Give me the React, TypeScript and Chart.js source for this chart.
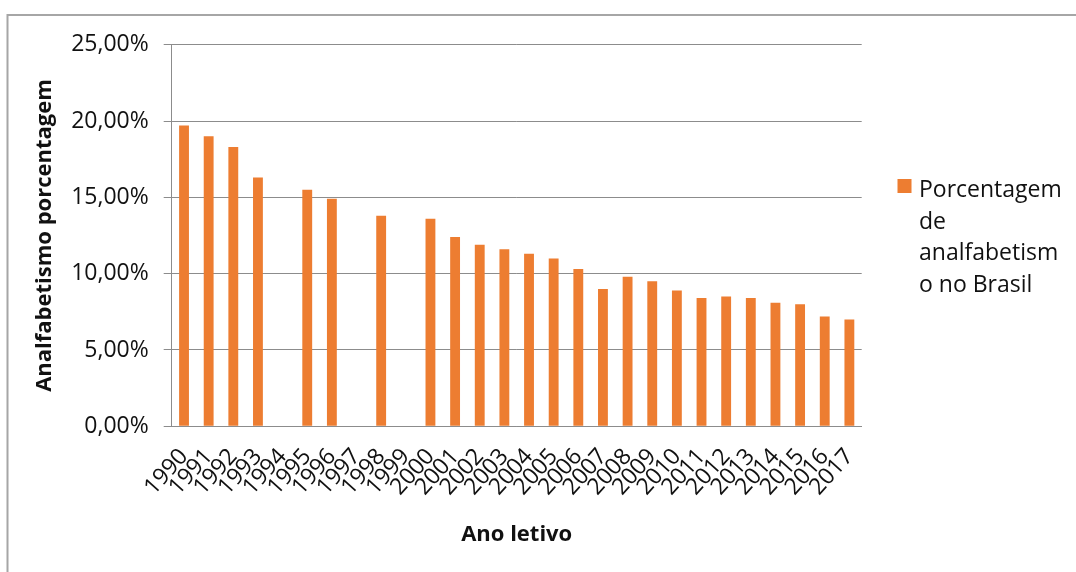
import { useEffect, useRef } from "react";
import { Chart, registerables } from "chart.js";

Chart.register(...registerables);

// Illiteracy rate in Brazil by school year (percent); null = no survey that year
const years = [
  "1990", "1991", "1992", "1993", "1994", "1995", "1996", "1997", "1998", "1999",
  "2000", "2001", "2002", "2003", "2004", "2005", "2006", "2007", "2008", "2009",
  "2010", "2011", "2012", "2013", "2014", "2015", "2016", "2017",
];
const illiteracyRate: (number | null)[] = [
  19.7, 19.0, 18.3, 16.3, null, 15.5, 14.9, null, 13.8, null,
  13.6, 12.4, 11.9, 11.6, 11.3, 11.0, 10.3, 9.0, 9.8, 9.5,
  8.9, 8.4, 8.5, 8.4, 8.1, 8.0, 7.2, 7.0,
];
const yMin = 0;
const yMax = 25;
const yStep = 5;

const seriesLabel = "Porcentagem de analfabetismo no Brasil";
const legendLines = ["Porcentagem", "de", "analfabetism", "o no Brasil"];
const yTitle = "Analfabetismo porcentagem";
const xTitle = "Ano letivo";

const FONT = "'Open Sans', Lato, sans-serif";
const BAR_COLOR = "#ED7D31";
const GRID_COLOR = "#8c8c8c";
const TEXT_COLOR = "#111111";

const formatPercent = (v: number) => v.toFixed(2).replace(".", ",") + "%";

// Thin gray frame along the top and left edges of the chart
const framePlugin = {
  id: "frame",
  beforeDraw(chart: Chart) {
    const { ctx, width, height } = chart;
    ctx.save();
    ctx.strokeStyle = "#a6a6a6";
    ctx.lineWidth = 2;
    ctx.beginPath();
    ctx.moveTo(7.5, height);
    ctx.lineTo(7.5, 15);
    ctx.lineTo(width, 15);
    ctx.stroke();
    ctx.restore();
  },
};

// Legend on the right, with the series name wrapped over several lines
const wrappedLegendPlugin = {
  id: "wrappedLegend",
  afterDraw(chart: Chart) {
    const { ctx } = chart;
    const ds = chart.data.datasets[0];
    ctx.save();
    ctx.fillStyle = ds.backgroundColor as string;
    ctx.fillRect(897.5, 179, 14, 14);
    ctx.fillStyle = TEXT_COLOR;
    ctx.font = `23px ${FONT}`;
    ctx.textAlign = "left";
    ctx.textBaseline = "alphabetic";
    legendLines.forEach((line, i) => {
      ctx.fillText(line, 919, 197 + i * 31.7);
    });
    ctx.restore();
  },
};

export default function App() {
  const canvasRef = useRef<HTMLCanvasElement | null>(null);

  useEffect(() => {
    if (!canvasRef.current) return;
    const chart = new Chart(canvasRef.current, {
      type: "bar",
      data: {
        labels: years,
        datasets: [
          {
            label: seriesLabel,
            data: illiteracyRate,
            backgroundColor: BAR_COLOR,
            borderWidth: 0,
            categoryPercentage: 1,
            barPercentage: 0.4,
          },
        ],
      },
      options: {
        animation: false,
        responsive: false,
        maintainAspectRatio: false,
        layout: {
          padding: { left: 20, top: 44.7, right: 214.3, bottom: 20 },
        },
        plugins: {
          legend: { display: false },
          tooltip: { enabled: false },
        },
        scales: {
          x: {
            grid: { display: false },
            border: { display: true, color: GRID_COLOR, width: 1 },
            ticks: {
              minRotation: 48,
              maxRotation: 48,
              autoSkip: false,
              color: TEXT_COLOR,
              font: { family: FONT, size: 23 },
              padding: 9,
            },
            title: {
              display: true,
              text: xTitle,
              color: TEXT_COLOR,
              font: { family: FONT, size: 22, weight: "bold" },
              padding: { top: 0, bottom: 4 },
            },
            afterFit(scale: any) {
              scale.height = 125.7;
            },
          },
          y: {
            min: yMin,
            max: yMax,
            ticks: {
              stepSize: yStep,
              color: TEXT_COLOR,
              font: { family: FONT, size: 23 },
              padding: 15,
              callback: (v: any) => formatPercent(Number(v)),
            },
            grid: {
              color: GRID_COLOR,
              lineWidth: 1,
              drawTicks: true,
              tickLength: 8,
            },
            border: { display: true, color: GRID_COLOR, width: 1 },
            title: {
              display: true,
              text: yTitle,
              color: TEXT_COLOR,
              font: { family: FONT, size: 22, weight: "bold" },
              padding: { top: 12, bottom: 0 },
            },
            afterFit(scale: any) {
              scale.width = 151.7;
            },
          },
        },
      },
      plugins: [framePlugin, wrappedLegendPlugin],
    });
    return () => chart.destroy();
  }, []);

  return (
    <div style={{ position: "fixed", left: 0, top: 0, width: 1076, height: 572, background: "#fff" }}>
      <canvas ref={canvasRef} width={1076} height={572} style={{ display: "block" }} />
    </div>
  );
}
